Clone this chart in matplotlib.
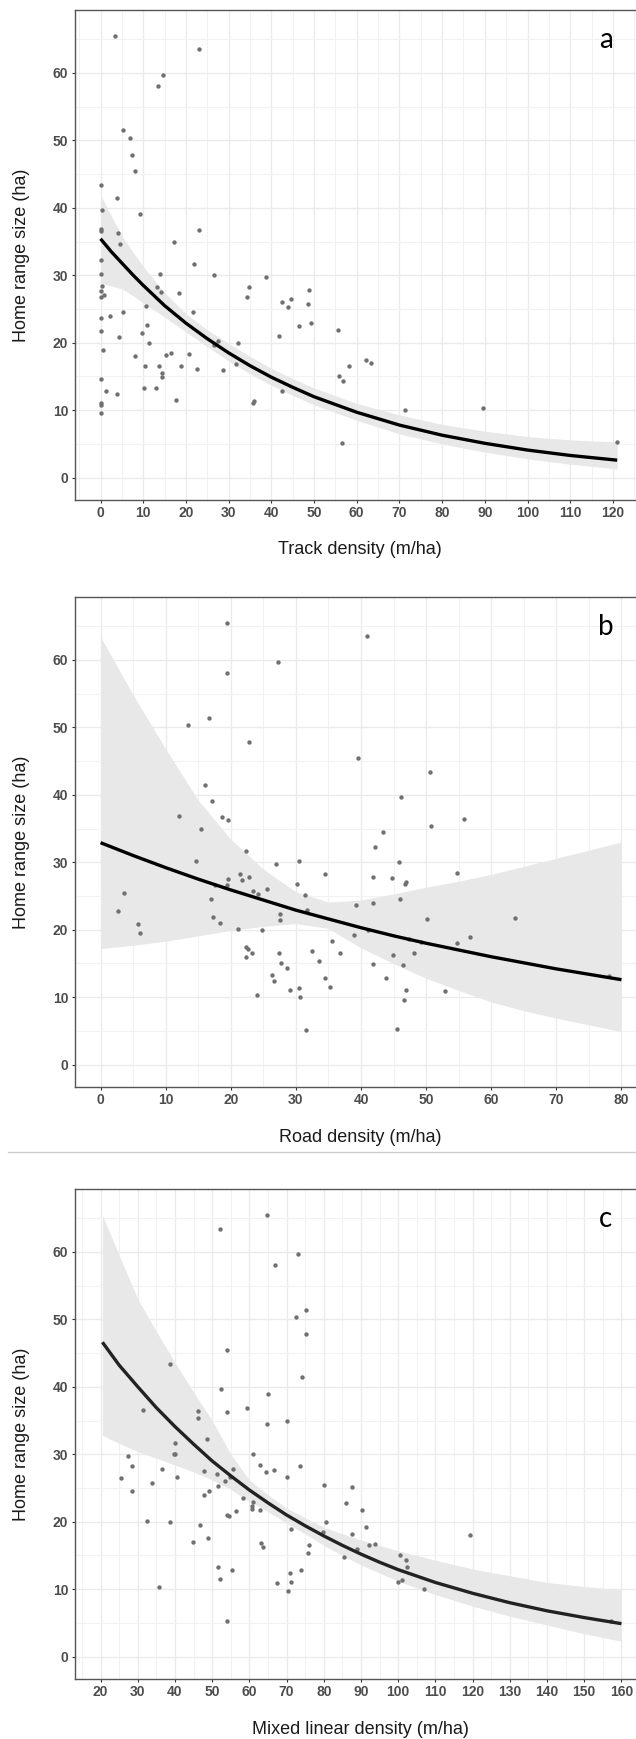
import matplotlib
matplotlib.use("Agg")
import matplotlib.pyplot as plt
from matplotlib.lines import Line2D
from matplotlib.ticker import MultipleLocator

plt.rcParams['font.family'] = ['Liberation Sans', 'DejaVu Sans']

# --- panel a: track density ---
track_x = [3.3, 23.0, 13.5, 14.7, 5.2, 6.8, 7.4, 8.0, 0.1, 3.9,
           0.3, 9.2, 0.0, 0.0, 4.1, 23.0, 4.5, 17.3, 0.0, 21.8,
           0.0, 14.0, 26.6, 38.8, 0.3, 0.0, 0.8, 0.0, 13.2, 14.1,
           18.3, 34.8, 34.2, 48.9, 48.7, 42.4, 44.7, 43.8, 10.7, 5.2,
           21.6, 0.0, 2.3, 46.4, 49.3, 10.8, 0.0, 9.6, 4.3, 41.8,
           55.5, 11.4, 27.6, 32.3, 26.6, 0.5, 16.6, 15.4, 20.7, 8.0,
           10.3, 13.6, 18.8, 22.6, 31.7, 28.6, 62.1, 63.4, 58.3, 14.3,
           14.3, 0.0, 55.9, 56.7, 1.2, 3.9, 10.1, 12.9, 42.5, 17.6,
           35.8, 36.0, 0.0, 0.0, 0.0, 71.4, 89.5, 56.6, 121.0]
track_y = [65.5, 63.5, 58.1, 59.7, 51.5, 50.3, 47.8, 45.4, 43.4, 41.5,
           39.7, 39.1, 36.9, 36.5, 36.3, 36.7, 34.6, 35.0, 32.3, 31.7,
           30.2, 30.2, 30.1, 29.7, 28.4, 27.7, 27.1, 26.8, 28.3, 27.5,
           27.4, 28.3, 26.8, 27.8, 25.8, 26.0, 26.5, 25.3, 25.5, 24.5,
           24.5, 23.6, 23.9, 22.5, 22.9, 22.7, 21.7, 21.5, 20.9, 21.0,
           21.9, 19.9, 20.2, 20.0, 19.6, 18.9, 18.5, 18.2, 18.3, 18.0,
           16.6, 16.5, 16.6, 16.1, 16.9, 15.9, 17.5, 17.0, 16.5, 15.5,
           14.9, 14.7, 15.1, 14.3, 12.9, 12.4, 13.3, 13.3, 12.8, 11.5,
           11.0, 11.3, 11.0, 10.8, 9.6, 10.0, 10.4, 5.1, 5.3]
track_fit_x = [0, 2.5, 5, 7.5, 10, 15, 20, 25, 30, 35, 40, 45, 50, 60, 70, 80, 90, 100, 110, 121]
track_fit = [35.4, 33.5, 31.8, 30.1, 28.5, 25.5, 22.9, 20.6, 18.5, 16.6, 14.9, 13.4, 12.0,
             9.7, 7.8, 6.3, 5.1, 4.1, 3.3, 2.6]
track_lo = [28.8, 28.4, 28.0, 27.0, 25.9, 23.8, 21.6, 19.4, 17.3, 15.4, 13.7, 12.2, 10.8,
            8.5, 6.5, 5.0, 3.8, 2.8, 2.0, 1.3]
track_hi = [41.9, 38.8, 35.9, 33.5, 31.3, 27.4, 24.3, 21.9, 19.9, 18.0, 16.2, 14.7, 13.3,
            11.0, 9.3, 7.9, 6.9, 6.1, 5.6, 5.3]

# --- panel b: road density ---
road_x = [19.4, 40.9, 27.2, 19.4, 16.6, 13.5, 22.75, 39.6, 50.6, 16.1,
          17.1, 46.1, 12.1, 18.7, 19.6, 55.8, 15.4, 50.75, 43.4, 42.1,
          22.4, 14.6, 30.5, 26.9, 45.9, 34.4, 54.75, 21.4, 21.75, 22.75,
          19.5, 41.9, 44.7, 46.9, 46.7, 19.4, 17.6, 30.1, 23.4, 25.5,
          24.25, 31.4, 3.6, 46.0, 16.9, 39.2, 41.8, 31.75, 2.7, 27.6,
          27.6, 50.1, 63.6, 17.25, 5.7, 18.3, 6.1, 21.1, 24.75, 41.1,
          38.95, 56.75, 47.4, 49.25, 54.7, 35.6, 22.4, 22.7, 23.3, 22.4,
          27.4, 32.4, 36.75, 48.1, 44.9, 33.6, 27.7, 41.9, 46.4, 28.6,
          26.3, 26.7, 34.4, 43.9, 35.3, 30.5, 29.1, 46.9, 52.9, 24.1,
          30.6, 46.6, 31.5, 45.6, 78.1]
road_y = [65.4, 63.5, 59.7, 58.0, 51.4, 50.3, 47.8, 45.4, 43.4, 41.5,
          39.1, 39.7, 36.8, 36.7, 36.3, 36.4, 35.0, 35.3, 34.5, 32.3,
          31.7, 30.2, 30.2, 29.7, 30.0, 28.3, 28.4, 28.3, 27.4, 27.8,
          27.5, 27.8, 27.6, 27.1, 26.8, 26.7, 26.6, 26.8, 25.8, 26.1,
          25.3, 25.1, 25.5, 24.5, 24.5, 23.6, 23.9, 22.9, 22.8, 22.4,
          21.5, 21.6, 21.8, 21.9, 20.9, 21.0, 19.5, 20.1, 20.0, 19.9,
          19.2, 18.9, 18.6, 18.2, 18.0, 18.3, 17.5, 17.1, 16.6, 15.9,
          16.6, 16.8, 16.5, 16.5, 16.2, 15.4, 15.0, 14.9, 14.8, 14.3,
          13.3, 12.4, 12.8, 12.9, 11.5, 11.3, 11.0, 11.0, 10.9, 10.4,
          10.0, 9.6, 5.2, 5.3, 13.2]
road_fit_x = [0, 5, 10, 15, 20, 25, 30, 35, 40, 45, 50, 55, 60, 65, 70, 75, 80]
road_fit = [32.9, 31.0, 29.2, 27.5, 25.9, 24.4, 22.9, 21.6, 20.3, 19.1, 18.0, 17.0, 16.0,
            15.1, 14.2, 13.4, 12.6]
road_lo = [17.2, 17.7, 18.3, 19.1, 19.9, 20.5, 20.9, 20.2, 17.3, 15.0, 12.8, 11.0, 9.3,
           8.0, 6.9, 5.9, 4.9]
road_hi = [63.4, 54.8, 46.8, 39.2, 33.4, 29.0, 25.6, 24.1, 24.4, 25.3, 26.3, 27.2, 28.2,
           29.4, 30.6, 31.8, 33.0]

# --- panel c: mixed linear density ---
mixed_x = [64.7, 52.2, 73.0, 66.9, 75.3, 72.5, 75.3, 54.0, 38.7, 74.2,
           52.5, 65.1, 31.5, 59.3, 46.2, 54.0, 46.1, 70.1, 64.7, 48.6,
           40.1, 39.8, 40.1, 61.1, 27.5, 28.5, 62.9, 73.5, 36.5, 55.6,
           47.8, 64.4, 66.5, 51.2, 40.6, 70.1, 54.8, 25.6, 53.4, 33.7,
           51.5, 80.0, 87.7, 28.5, 49.1, 47.8, 58.2, 86.1, 61.0, 60.8,
           60.7, 62.9, 90.2, 56.4, 53.9, 54.4, 32.5, 38.7, 80.6, 46.6,
           91.3, 71.2, 119.4, 79.7, 87.7, 48.9, 44.8, 63.1, 93.7, 92.2,
           75.9, 63.6, 89.0, 75.8, 100.5, 102.2, 85.4, 102.4, 51.5, 73.9,
           55.3, 70.9, 52.0, 71.2, 67.5, 99.9, 101.1, 35.8, 70.3, 107.0,
           54.0, 157.3]
mixed_y = [65.4, 63.4, 59.7, 58.0, 51.4, 50.3, 47.8, 45.4, 43.4, 41.5,
           39.6, 39.0, 36.6, 36.8, 36.4, 36.3, 35.3, 35.0, 34.5, 32.3,
           31.7, 30.1, 30.1, 30.0, 29.7, 28.3, 28.4, 28.3, 27.8, 27.8,
           27.5, 27.4, 27.7, 27.0, 26.7, 26.7, 26.7, 26.5, 26.0, 25.8,
           25.3, 25.5, 25.1, 24.5, 24.5, 24.0, 23.5, 22.8, 22.9, 22.4,
           21.9, 21.8, 21.7, 21.6, 21.0, 20.9, 20.1, 20.0, 19.9, 19.5,
           19.2, 18.9, 18.0, 18.5, 18.2, 17.6, 17.0, 16.8, 16.7, 16.5,
           16.6, 16.2, 15.9, 15.4, 15.1, 14.3, 14.8, 13.3, 13.3, 12.9,
           12.8, 12.4, 11.5, 11.0, 10.9, 11.0, 11.3, 10.4, 9.7, 10.1,
           5.3, 5.3]
mixed_fit_x = [20.5, 25, 30, 35, 40, 45, 50, 55, 60, 65, 70, 75, 80, 85, 90, 95, 100,
               110, 120, 130, 140, 150, 160]
mixed_fit = [46.6, 43.2, 40.0, 36.9, 34.1, 31.5, 29.0, 26.8, 24.7, 22.8, 21.0, 19.4, 17.9,
             16.5, 15.2, 14.0, 12.9, 11.0, 9.4, 8.0, 6.8, 5.8, 4.9]
mixed_lo = [32.8, 31.6, 30.4, 29.4, 28.4, 27.4, 26.2, 24.8, 23.0, 21.5, 19.8, 18.2, 16.5,
            15.0, 13.6, 12.4, 11.2, 9.2, 7.5, 6.0, 4.7, 3.4, 2.3]
mixed_hi = [65.4, 59.5, 53.0, 48.2, 43.6, 39.2, 35.0, 30.0, 26.2, 24.0, 22.0, 20.6, 19.2,
            18.2, 17.3, 16.5, 15.7, 14.3, 13.0, 12.0, 11.0, 10.4, 9.9]

W, H = 636, 1739
fig = plt.figure(figsize=(W / 100, H / 100), dpi=100)

panels = [
    # top px, x, y, fit x, fit, lo, hi, xlim, xticks, xlabel, letter, line colour
    (10, track_x, track_y, track_fit_x, track_fit, track_lo, track_hi,
     (-6.1, 128.1), range(0, 121, 10), "Track density (m/ha)", "a", "black"),
    (597, road_x, road_y, road_fit_x, road_fit, road_lo, road_hi,
     (-4, 84), range(0, 81, 10), "Road density (m/ha)", "b", "black"),
    (1189, mixed_x, mixed_y, mixed_fit_x, mixed_fit, mixed_lo, mixed_hi,
     (13, 167), range(20, 161, 10), "Mixed linear density (m/ha)", "c", "#222222"),
]

ax_h = 490
for top, px, py, fx, fy, lo, hi, xlim, xt, xlab, letter, lc in panels:
    ax = fig.add_axes([74.5 / W, 1 - (top + ax_h) / H, 573 / W, ax_h / H])
    ax.set_xlim(*xlim)
    ax.set_ylim(-3.3, 69.3)
    ax.set_xticks(list(xt))
    ax.set_yticks(range(0, 61, 10))
    ax.xaxis.set_minor_locator(MultipleLocator(5))
    ax.yaxis.set_minor_locator(MultipleLocator(5))
    ax.grid(which='major', color='#ebebeb', lw=1.0, zorder=0)
    ax.grid(which='minor', color='#f2f2f2', lw=0.8, zorder=0)
    ax.set_axisbelow(True)
    ax.tick_params(which='minor', length=0)
    ax.tick_params(which='major', direction='out', length=2.5, width=0.8,
                   color='#333333', labelcolor='#4d4d4d', labelsize=10, pad=2)
    for lab in ax.get_xticklabels() + ax.get_yticklabels():
        lab.set_fontweight('bold')
    for sp in ax.spines.values():
        sp.set_color('#555555')
        sp.set_linewidth(1.0)

    ax.fill_between(fx, lo, hi, color='#e8e8e8', lw=0, zorder=1)
    ax.scatter(px, py, s=10, color='#707070', lw=0, zorder=2)
    ax.plot(fx, fy, color=lc, lw=2.4, zorder=3, solid_capstyle='butt')

    fig.text(22 / W, 1 - (top + ax_h / 2) / H, "Home range size (ha)",
             rotation=90, ha='center', va='center', fontsize=13, color='#1a1a1a')
    fig.text(360 / W, 1 - (top + ax_h + 50) / H, xlab,
             ha='center', va='center', fontsize=13, color='#1a1a1a')
    fig.text(606 / W, 1 - (top + 30) / H, letter, ha='center', va='center',
             fontsize=20, family=['Lato', 'DejaVu Sans'])

# thin separator between panels b and c
fig.add_artist(Line2D([8 / W, 1], [1 - 1152 / H] * 2, color='#cccccc', lw=1))

fig.savefig("out.png", dpi=100)
